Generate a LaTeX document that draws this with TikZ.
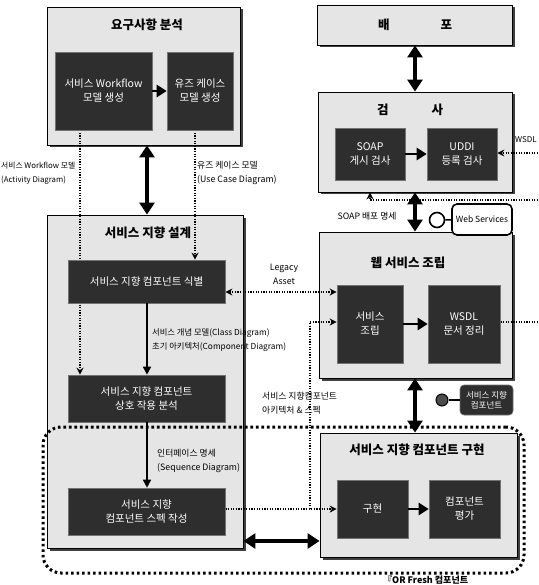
\documentclass[tikz,border=0pt]{standalone}
\usepackage{fontspec}
\setmainfont{Noto Sans CJK KR}
\usetikzlibrary{arrows.meta,shadows}
\pgfdeclarelayer{back}
\pgfdeclarelayer{mid}
\pgfsetlayers{back,mid,main}
\begin{document}
\begin{tikzpicture}[x=1pt,y=-1pt,
  outer/.style={draw=black, line width=0.9pt, fill=black!10, inner sep=0pt,
    drop shadow={shadow xshift=2.5pt,shadow yshift=-2.5pt,fill=black!75,opacity=1}},
  dark/.style={fill=black!82, draw=black!55, line width=0.6pt, text=white, align=center, inner sep=0pt,
    font=\fontsize{10.5}{14}\selectfont},
  ttl/.style={font=\bfseries\fontsize{12.5}{14}\selectfont, inner sep=0pt},
  lbl/.style={font=\fontsize{8.8}{14}\selectfont, align=left, inner sep=0pt},
  big/.style={line width=4.5pt, {Triangle[width=15pt,length=12pt]}-{Triangle[width=15pt,length=12pt]}},
  harr/.style={line width=2.6pt, -{Triangle[width=12pt,length=10pt]}},
  varr/.style={line width=1.5pt, -{Triangle[width=8pt,length=8pt]}},
  dotl/.style={line width=1.1pt, dash pattern=on 1.2pt off 1.4pt},
  dota/.style={dotl, -{Stealth[length=7pt,width=7pt]}},
]
\useasboundingbox (0,0) rectangle (538,585);

% helper coordinates
\coordinate (cx80) at (80,0);
\coordinate (cx195) at (195,0);
\coordinate (cx147) at (147,0);
\coordinate (cx415) at (415,0);
\coordinate (cx370) at (370,0);
\coordinate (cy292) at (0,292);
\coordinate (cy322) at (0,322);
\coordinate (cy509) at (0,509);
\coordinate (cy541) at (0,541);
\coordinate (rE1) at (538,153);
\coordinate (rE2) at (538,200);
\coordinate (rE3) at (538,322);
\coordinate (br) at (310,509);

% outer boxes
\begin{pgfonlayer}{back}
\node[outer, minimum width=193pt, minimum height=138pt] (req) at (143.5,76) {};
\node[outer, minimum width=196pt, minimum height=333pt] (des) at (145,381.5) {};
\node[outer, minimum width=195pt, minimum height=40pt] (dep) at (414.5,25) {};
\node[outer, minimum width=194pt, minimum height=100pt] (chk) at (415,142) {};
\node[outer, minimum width=193pt, minimum height=146pt] (asm) at (415.5,305) {};
\node[outer, minimum width=197pt, minimum height=124pt] (imp) at (418.5,495) {};
\end{pgfonlayer}

% titles
\node[ttl] (reqt) at (147,25) {요구사항 분석};
\node[ttl] (dest) at (148,233) {서비스 지향 설계};
\node[ttl] (dept) at (415,25) {배\hspace{51pt}포};
\node[ttl] (chkt) at (410,110) {검\hspace{43pt}사};
\node[ttl] (asmt) at (408,263) {웹 서비스 조립};
\node[ttl] (impt) at (417,450) {서비스 지향 컴포넌트 구현};

% dark boxes
\node[dark, minimum width=97pt, minimum height=78pt] (wf) at (103.5,91) {서비스 Workflow\\모델 생성};
\node[dark, minimum width=66pt, minimum height=78pt] (uc) at (200,91) {유즈 케이스\\모델 생성};
\node[dark, minimum width=157pt, minimum height=43pt] (idn) at (146.5,281.5) {서비스 지향 컴포넌트 식별};
\node[dark, minimum width=157pt, minimum height=47pt] (int) at (146.5,398.5) {서비스 지향 컴포넌트\\상호 작용 분석};
\node[dark, minimum width=157pt, minimum height=47pt] (spc) at (146.5,511.5) {서비스 지향\\컴포넌트 스펙 작성};
\node[dark, minimum width=70pt, minimum height=52pt] (soap) at (370,154) {SOAP\\게시 검사};
\node[dark, minimum width=70pt, minimum height=52pt] (uddi) at (462,154) {UDDI\\등록 검사};
\node[dark, minimum width=66pt, minimum height=78pt] (sasm) at (370,324) {서비스\\조립};
\node[dark, minimum width=72pt, minimum height=78pt] (wsdl) at (464,324) {WSDL\\문서 정리};
\node[dark, minimum width=71pt, minimum height=58pt] (impl) at (372.5,509) {구현};
\node[dark, minimum width=71pt, minimum height=58pt] (eval) at (464.5,509) {컴포넌트\\평가};

% small side items
\node[circle, draw, line width=1.6pt, fill=white, minimum size=15pt, inner sep=0pt] (c1) at (437,220) {};
\node[draw, line width=1.6pt, rounded corners=5pt, fill=white, minimum width=60pt, minimum height=31pt,
  inner sep=0pt, font=\fontsize{8.5}{10}\selectfont] (ws) at (482,219.5) {Web Services};
\draw[line width=1.6pt] (c1) -- (ws);
\node[circle, draw, line width=1pt, fill=black!70, minimum size=12pt, inner sep=0pt] (c2) at (442,400) {};
\node[dark, rounded corners=4pt, minimum width=53pt, minimum height=30pt,
  font=\fontsize{8.5}{10.5}\selectfont] (soc) at (486.5,400) {서비스 지향\\컴포넌트};
\draw[line width=1.6pt] (c2) -- (soc);

% big double arrows
\draw[big] (req.south -| cx147) -- (des.north -| cx147);
\draw[big] (dep.south -| cx415) -- (chk.north -| cx415);
\draw[big] (chk.south -| cx415) -- (asm.north -| cx415);
\draw[big] (asm.south -| cx415) -- (imp.north -| cx415);
\draw[big] (des.east |- cy541) -- (imp.west |- cy541);

% solid arrows
\draw[harr] (wf.east) -- (uc.west);
\draw[harr] (soap.east) -- (uddi.west);
\draw[harr] (sasm.east) -- (wsdl.west);
\draw[harr] (impl.east) -- (eval.west);
\draw[varr] (idn.south -| cx147) -- (int.north -| cx147);
\draw[varr] (int.south -| cx147) -- (spc.north -| cx147);

% dotted connectors
\begin{pgfonlayer}{mid}
\draw[dota] (wf.south -| cx80) -- (int.north -| cx80);
\draw[dota] (uc.south -| cx195) -- (idn.north -| cx195);
\draw[dotl, {Stealth[length=7pt,width=7pt]}-{Stealth[length=7pt,width=7pt]}] (idn.east |- cy292) -- (sasm.west |- cy292);
\draw[dota] (spc.east |- cy509) -- (impl.west |- cy509);
\draw[dota] (br) -- (br |- cy322) -- (sasm.west |- cy322);
\draw[dotl] (wsdl.east |- cy322) -- (rE3);
\draw[dota] (rE1) -- (uddi.east |- rE1);
\draw[dota] (rE2) -- (rE2 -| cx370) -- (chk.south -| cx370);
\end{pgfonlayer}

% labels
\node[lbl, anchor=west, font=\fontsize{7.8}{14}\selectfont] (l1) at (1,173) {서비스 Workflow 모델\\(Activity Diagram)};
\node[lbl, anchor=west] (l2) at (197,173) {유즈 케이스 모델\\(Use Case Diagram)};
\node[lbl, anchor=west, font=\fontsize{8.3}{14}\selectfont] (l3) at (152,340) {서비스 개념 모델(Class Diagram)\\초기 아키텍처(Component Diagram)};
\node[lbl, anchor=west] (l4) at (157,461) {인터페이스 명세\\(Sequence Diagram)};
\node[lbl, align=center] (l5) at (284,274) {Legacy\\Asset};
\node[lbl] (l6) at (367,216) {SOAP 배포 명세};
\node[lbl, anchor=east, font=\fontsize{8}{10}\selectfont] (l7) at (537,140) {WSDL};
\node[lbl, anchor=west] (l8) at (262,403) {서비스 지향컴포넌트\\아키텍처 \& 스펙};

% dotted group frame
\node[draw, line width=3pt, dash pattern=on 2.6pt off 2.9pt, rounded corners=18pt,
  minimum width=481pt, minimum height=146pt, inner sep=0pt] (grp) at (283.5,500) {};

\node[anchor=south west, inner sep=0pt, font=\bfseries\fontsize{9}{10}\selectfont] (foot) at (383,584) {『OR Fresh 컴포넌트};
\end{tikzpicture}
\end{document}
